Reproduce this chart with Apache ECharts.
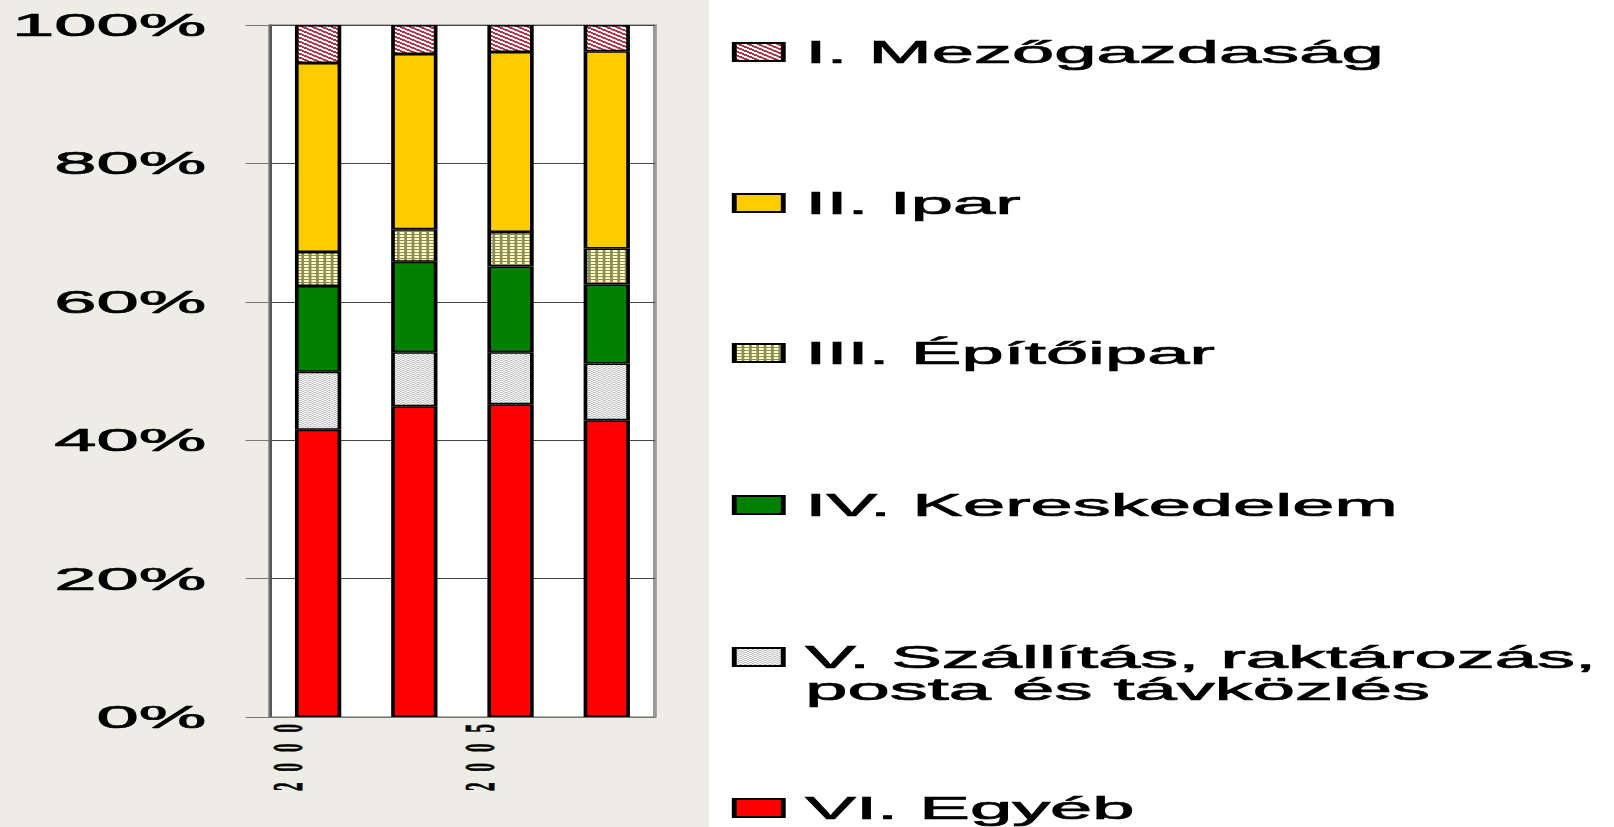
<!DOCTYPE html>
<html>
<head>
<meta charset="utf-8">
<title>Ágazati megoszlás</title>
<script src="https://cdn.jsdelivr.net/npm/echarts@6/dist/echarts.min.js"></script>
<style>
  html, body { margin: 0; padding: 0; background: #fff; overflow: hidden; }
  /* the original picture is stretched about 2.45x wide, so the chart is drawn narrow and scaled */
  #chart {
    width: 659px;
    height: 827px;
    transform: scaleX(2.45);
    transform-origin: 0 0;
    background: linear-gradient(to right, #EDEDE5 289.4px, #fff 289.4px);
  }
  #chart text[style*="Serif"] { letter-spacing: 11px; }
  #chart image { image-rendering: pixelated; }
</style>
</head>
<body>
<div id="chart"></div>
<script>
  // shares in %, bottom to top: VI .. I
  var categories = ['2000', '2004', '2005', '2006'];
  var egyeb = [41.5, 44.9, 45.2, 42.9];
  var szallitas = [8.4, 7.8, 7.5, 8.2];
  var kereskedelem = [12.4, 13.1, 12.4, 11.4];
  var epitoipar = [4.9, 4.7, 5.0, 5.2];
  var ipar = [27.3, 25.3, 26.0, 28.5];
  var mezogazdasag = [5.5, 4.2, 3.9, 3.8];
  var yTicks = [0, 20, 40, 60, 80, 100];
  var names = [
    'I. Mezőgazdaság',
    'II. Ipar',
    'III. Építőipar',
    'IV. Kereskedelem',
    'V. Szállítás, raktározás,\nposta és távközlés',
    'VI. Egyéb'
  ];

  var sansFont = '"Liberation Sans", Arial';

  // small pixel patterns like the excel fills
  function pattern (size, paint) {
    var c = document.createElement('canvas');
    c.width = size;
    c.height = size;
    var ctx = c.getContext('2d');
    for (var y = 0; y < size; y++) {
      for (var x = 0; x < size; x++) {
        ctx.fillStyle = paint(x, y);
        ctx.fillRect(x, y, 1, 1);
      }
    }
    return { image: c, repeat: 'repeat' };
  }

  var hatchRed = pattern(4, function (x, y) {
    return (x - y + 4) % 4 < 2 ? '#A83444' : '#ffffff';
  });
  var gridOlive = pattern(3, function (x, y) {
    return (x === 0 || y === 0) ? '#8C8C5A' : '#FFFFC0';
  });
  var dotsGray = pattern(2, function (x, y) {
    return (x + y) % 2 === 0 ? '#BDBDBD' : '#ffffff';
  });

  function bar (name, data, color) {
    return {
      name: name,
      type: 'bar',
      stack: 'total',
      data: data,
      barWidth: 18.9,
      itemStyle: { color: color, borderColor: '#000', borderWidth: 1.5 },
      emphasis: { disabled: true }
    };
  }

  var legendTops = [36, 187, 337, 489, 609, 792];

  var chart = echarts.init(document.getElementById('chart'), null, { renderer: 'svg' });

  chart.setOption({
    animation: false,
    grid: {
      left: 110.2,
      top: 25,
      width: 157.1,
      height: 692,
      show: true,
      backgroundColor: '#fff',
      borderColor: '#999',
      borderWidth: 1.6
    },
    legend: names.map(function (n, i) {
      return {
        data: [n],
        orient: 'vertical',
        left: 298.7,
        top: legendTops[i],
        padding: 0,
        itemWidth: 20,
        itemHeight: 18,
        icon: 'rect',
        selectedMode: false,
        // two-line item: blank first line keeps the real first line level with the icon
        formatter: function (name) {
          return name.indexOf('\n') > -1 ? '\u00a0\n' + name : name;
        },
        textStyle: {
          fontFamily: sansFont,
          fontSize: 31,
          lineHeight: 32,
          color: '#000',
          textBorderColor: '#000',
          textBorderWidth: 0.7,
          padding: [0, 0, 0, 4]
        }
      };
    }),
    xAxis: {
      type: 'category',
      data: categories,
      axisLine: { lineStyle: { color: '#777', width: 1 } },
      axisTick: { interval: 0, length: 9, lineStyle: { color: '#333' } },
      axisLabel: {
        interval: 1,
        rotate: 90,
        margin: -4,
        lineHeight: 24.4,
        formatter: function (v) {
          return v + '\n\u00a0';
        },
        fontFamily: '"Liberation Serif"',
        fontWeight: 'bold',
        fontSize: 17,
        color: '#000',
        textBorderColor: '#000',
        textBorderWidth: 0.4
      }
    },
    yAxis: {
      type: 'value',
      min: yTicks[0],
      max: yTicks[yTicks.length - 1],
      interval: yTicks[1] - yTicks[0],
      axisLine: { show: true, lineStyle: { color: '#555', width: 1 } },
      axisTick: { show: true, length: 10, lineStyle: { color: '#777' } },
      axisLabel: {
        formatter: '{value}%',
        fontFamily: sansFont,
        fontSize: 31,
        color: '#000',
        textBorderColor: '#000',
        textBorderWidth: 0.7,
        margin: 26
      },
      splitLine: { lineStyle: { color: '#444', width: 1 } }
    },
    series: [
      bar(names[5], egyeb, '#FF0000'),
      bar(names[4], szallitas, dotsGray),
      bar(names[3], kereskedelem, '#008000'),
      bar(names[2], epitoipar, gridOlive),
      bar(names[1], ipar, '#FFCC00'),
      bar(names[0], mezogazdasag, hatchRed)
    ]
  });
</script>
</body>
</html>
